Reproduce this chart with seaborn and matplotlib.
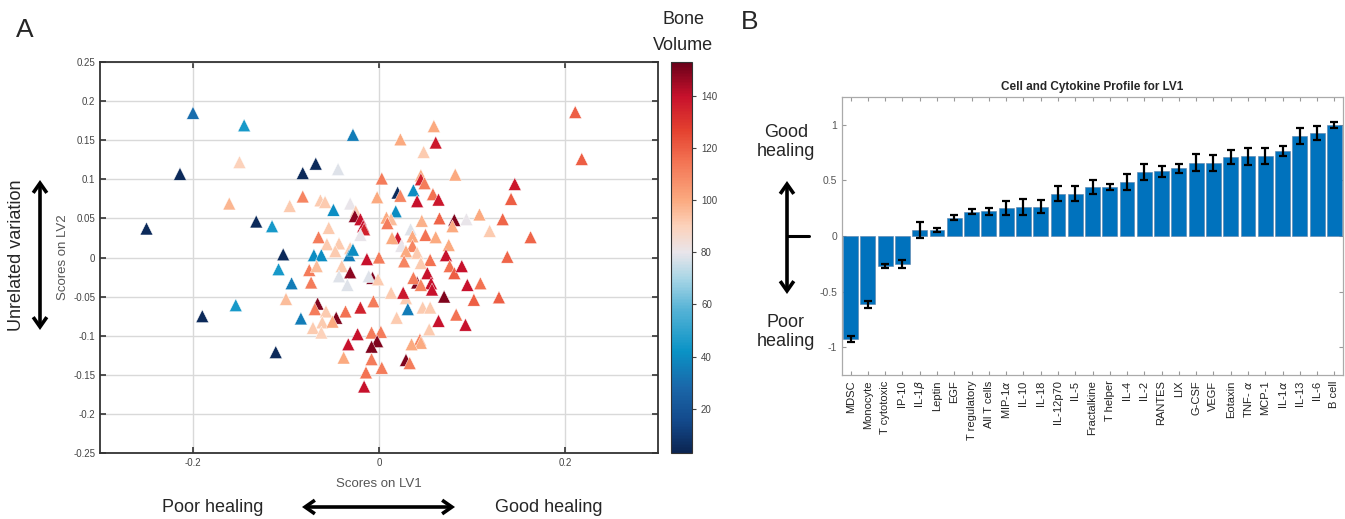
import numpy as np
import pandas as pd
import matplotlib
matplotlib.use("Agg")
import matplotlib.pyplot as plt
from matplotlib.colors import LinearSegmentedColormap, Normalize
import seaborn as sns

sns.set_style("white")
plt.rcParams['font.family'] = ['Liberation Sans', 'DejaVu Sans']

# ---------------- data: panel A ----------------
lv1_scores = [-0.200, -0.145, -0.028, 0.211, 0.218, 0.059, 0.023, 0.061, 0.048, -0.150,
              -0.068, -0.044, -0.082, -0.214, 0.003, 0.082, 0.045, 0.045, 0.049, 0.146,
              0.142, 0.020, 0.023, 0.037, 0.058, 0.041, 0.064, -0.002, -0.082, -0.161,
              -0.096, -0.063, -0.058, -0.049, -0.031, -0.025, 0.018, -0.026, -0.020, -0.017,
              -0.016, 0.008, 0.013, 0.009, 0.046, 0.065, 0.081, 0.094, 0.079, 0.108,
              0.133, 0.119, 0.163, -0.132, -0.115, -0.250, -0.054, -0.065, -0.056, -0.043,
              -0.031, -0.047, -0.020, 0.034, 0.020, 0.036, 0.050, 0.061, 0.014, 0.024,
              0.036, 0.075, 0.072, 0.041, 0.029, 0.027, 0.055, 0.045, 0.138, -0.103,
              -0.070, -0.062, -0.032, -0.028, -0.013, 0.000, -0.108, -0.094, -0.075, -0.067,
              -0.073, -0.040, -0.043, -0.031, -0.034, -0.007, -0.011, -0.001, -0.100, -0.154,
              -0.190, -0.111, -0.084, -0.066, -0.069, -0.057, -0.061, -0.071, -0.062, -0.046,
              -0.050, -0.036, -0.020, -0.006, 0.013, 0.029, 0.026, 0.041, 0.037, 0.052,
              0.056, 0.057, 0.045, 0.070, 0.076, 0.081, 0.089, 0.095, 0.109, 0.102,
              0.129, 0.064, 0.083, 0.093, 0.047, 0.055, 0.031, 0.019, 0.054, 0.044,
              0.045, 0.035, 0.002, -0.008, -0.023, -0.002, -0.008, -0.033, -0.038, -0.008,
              0.029, 0.033, -0.014, 0.003, -0.016]
lv2_scores = [0.185, 0.169, 0.157, 0.186, 0.126, 0.168, 0.151, 0.147, 0.135, 0.122,
              0.120, 0.113, 0.108, 0.107, 0.101, 0.106, 0.105, 0.100, 0.095, 0.094,
              0.075, 0.083, 0.079, 0.086, 0.081, 0.072, 0.074, 0.077, 0.078, 0.069,
              0.066, 0.073, 0.071, 0.061, 0.069, 0.059, 0.059, 0.053, 0.049, 0.040,
              0.036, 0.051, 0.049, 0.044, 0.047, 0.050, 0.048, 0.049, 0.040, 0.055,
              0.049, 0.034, 0.026, 0.046, 0.040, 0.037, 0.038, 0.026, 0.017, 0.018,
              0.012, 0.008, 0.029, 0.036, 0.025, 0.027, 0.029, 0.026, 0.025, 0.015,
              0.015, 0.016, 0.003, 0.006, 0.008, -0.005, -0.003, -0.007, 0.001, 0.004,
              0.003, 0.003, 0.003, 0.010, -0.002, 0.000, -0.015, -0.033, -0.016, -0.011,
              -0.032, -0.011, -0.024, -0.019, -0.035, -0.026, -0.024, -0.028, -0.053, -0.061,
              -0.075, -0.121, -0.078, -0.059, -0.066, -0.069, -0.083, -0.090, -0.096, -0.077,
              -0.082, -0.069, -0.064, -0.056, -0.045, -0.052, -0.045, -0.032, -0.026, -0.020,
              -0.033, -0.041, -0.035, -0.050, -0.011, -0.020, -0.011, -0.035, -0.033, -0.054,
              -0.051, -0.081, -0.073, -0.086, -0.064, -0.064, -0.066, -0.077, -0.092, -0.105,
              -0.109, -0.111, -0.095, -0.096, -0.098, -0.107, -0.114, -0.111, -0.128, -0.130,
              -0.131, -0.135, -0.147, -0.141, -0.165]
bone_volume = [30, 45, 35, 120, 120, 100, 100, 138, 92, 90,
               5, 78, 5, 5, 112, 100, 100, 135, 112, 138,
               120, 5, 110, 40, 115, 140, 138, 100, 110, 97,
               92, 92, 92, 40, 80, 92, 40, 148, 140, 140,
               135, 100, 95, 112, 98, 118, 150, 80, 100, 100,
               118, 92, 118, 5, 45, 5, 92, 112, 92, 92,
               92, 92, 80, 78, 138, 100, 115, 100, 100, 80,
               110, 100, 140, 92, 100, 110, 115, 92, 118, 5,
               40, 40, 35, 40, 140, 112, 45, 35, 112, 95,
               112, 92, 78, 148, 78, 150, 78, 92, 95, 45,
               5, 5, 35, 150, 112, 92, 92, 92, 90, 150,
               100, 115, 135, 112, 92, 92, 138, 150, 112, 140,
               140, 140, 110, 150, 115, 120, 140, 140, 115, 120,
               120, 140, 115, 140, 92, 92, 35, 92, 92, 110,
               100, 100, 112, 112, 140, 150, 150, 140, 100, 112,
               150, 112, 115, 112, 140]

# ---------------- data: panel B ----------------
profile_labels = ["MDSC", "Monocyte", "T cytotoxic", "IP-10", r"IL-1$\beta$", "Leptin", "EGF",
                  "T regulatory", "All T cells", r"MIP-1$\alpha$", "IL-10", "IL-18", "IL-12p70",
                  "IL-5", "Fractalkine", "T helper", "IL-4", "IL-2", "RANTES", "LIX", "G-CSF",
                  "VEGF", "Eotaxin", r"TNF- $\alpha$", "MCP-1", r"IL-1$\alpha$", "IL-13", "IL-6",
                  "B cell"]
profile_values = [-0.925, -0.613, -0.270, -0.252, 0.054, 0.054, 0.165, 0.219, 0.222, 0.252,
                  0.261, 0.264, 0.381, 0.381, 0.441, 0.441, 0.486, 0.573, 0.583, 0.610,
                  0.658, 0.658, 0.712, 0.715, 0.718, 0.763, 0.898, 0.925, 0.997]
profile_errors = [0.030, 0.030, 0.022, 0.040, 0.070, 0.020, 0.020, 0.020, 0.030, 0.060,
                  0.070, 0.060, 0.065, 0.070, 0.060, 0.025, 0.070, 0.070, 0.050, 0.040,
                  0.075, 0.070, 0.065, 0.075, 0.070, 0.045, 0.070, 0.060, 0.025]

W, H = 1345, 519
fig = plt.figure(figsize=(W / 100, H / 100), dpi=100)

def fx(px):
    return px / W

def fy(py):
    return 1 - py / H

# colormap (blue -> white -> red)
cmap_nodes = [(3, "#0b2552"), (15, "#13498b"), (28, "#1a67a9"), (42, "#0a93c6"),
              (58, "#56b3d6"), (70, "#a9d6e6"), (80, "#e9e5ea"), (90, "#fcd2bb"),
              (100, "#fbaa80"), (115, "#f37353"), (127, "#e4412f"), (140, "#c7112c"),
              (153, "#6a0019")]
vmin, vmax = 3, 153
cmap = LinearSegmentedColormap.from_list(
    "bone", [((v - vmin) / (vmax - vmin), c) for v, c in cmap_nodes])
norm = Normalize(vmin, vmax)

# ---------------- panel A ----------------
axA = fig.add_axes([fx(100), fy(453), fx(558), (453 - 62) / H])
dfA = pd.DataFrame({"LV1": lv1_scores, "LV2": lv2_scores, "Bone": bone_volume})
sns.scatterplot(data=dfA, x="LV1", y="LV2", hue="Bone", palette=cmap, hue_norm=norm,
                marker="^", s=85, edgecolor="white", linewidth=0.3, legend=False,
                ax=axA, zorder=3)
axA.set_xlim(-0.3, 0.3)
axA.set_ylim(-0.25, 0.25)
axA.set_xticks([-0.2, 0, 0.2])
axA.set_xticklabels(["-0.2", "0", "0.2"])
yt = [-0.25, -0.2, -0.15, -0.1, -0.05, 0, 0.05, 0.1, 0.15, 0.2, 0.25]
axA.set_yticks(yt)
axA.set_yticklabels(["-0.25", "-0.2", "-0.15", "-0.1", "-0.05", "0", "0.05", "0.1",
                     "0.15", "0.2", "0.25"])
axA.grid(True, color="#d9d9d9", lw=1.0, zorder=0)
axA.set_axisbelow(True)
axA.tick_params(direction="in", length=4, width=1.2, colors="#333333", labelsize=7,
                labelcolor="#444444", top=True, right=True, left=True, bottom=True)
for s in axA.spines.values():
    s.set_color("#333333")
    s.set_linewidth(1.3)
axA.set_xlabel("Scores on LV1", fontsize=9.5, color="#555555", labelpad=7)
axA.set_ylabel("Scores on LV2", fontsize=9.5, color="#555555", labelpad=3)

# colorbar
cax = fig.add_axes([fx(671), fy(453), fx(21), (453 - 62) / H])
sm = matplotlib.cm.ScalarMappable(norm=norm, cmap=cmap)
cb = fig.colorbar(sm, cax=cax)
cb.set_ticks([20, 40, 60, 80, 100, 120, 140])
cb.ax.tick_params(labelsize=7, length=3, direction="out", colors="#444444")
cb.outline.set_edgecolor("#333333")
cb.outline.set_linewidth(0.8)

fig.text(fx(683), fy(20), "Bone", fontsize=13, ha="center", va="center")
fig.text(fx(683), fy(45), "Volume", fontsize=13, ha="center", va="center")
fig.text(fx(25), fy(30), "A", fontsize=19, ha="center", va="center")

fig.text(fx(17), fy(255), "Unrelated variation", fontsize=13, rotation=90,
         ha="center", va="center")
arrow_kw = dict(arrowstyle="<->,head_length=0.5,head_width=0.35", lw=2.6, color="black",
                mutation_scale=14, shrinkA=0, shrinkB=0, joinstyle="miter",
                capstyle="butt")
fig.add_artist(matplotlib.patches.FancyArrowPatch(
    (fx(40), fy(180)), (fx(40), fy(330)), transform=fig.transFigure, **arrow_kw))
fig.text(fx(213), fy(507), "Poor healing", fontsize=13, ha="center", va="center")
fig.text(fx(549), fy(507), "Good healing", fontsize=13, ha="center", va="center")
fig.add_artist(matplotlib.patches.FancyArrowPatch(
    (fx(302), fy(507)), (fx(455), fy(507)), transform=fig.transFigure, **arrow_kw))

# ---------------- panel B ----------------
axB = fig.add_axes([fx(842), fy(375), fx(501), (375 - 97) / H])
dfB = pd.DataFrame({"Label": profile_labels, "Value": profile_values})
sns.barplot(data=dfB, x="Label", y="Value", color="#0072BD", saturation=1,
            width=0.86, edgecolor="#5a7fa8", linewidth=0.4, ax=axB, zorder=2)
axB.errorbar(np.arange(len(profile_values)), profile_values, yerr=profile_errors,
             fmt="none", ecolor="black", elinewidth=1.6, capsize=3, capthick=1.6, zorder=4)
axB.set_xlim(-0.5, len(profile_values) - 0.5)
axB.set_ylim(-1.25, 1.25)
axB.set_yticks([-1, -0.5, 0, 0.5, 1])
axB.set_yticklabels(["-1", "-0.5", "0", "0.5", "1"])
axB.set_xlabel("")
axB.set_ylabel("")
axB.set_xticks(np.arange(len(profile_labels)))
axB.set_xticklabels(profile_labels, rotation=90, fontsize=8, color="#222222")
axB.tick_params(axis="x", direction="in", length=3, width=0.8, colors="#999999",
                labelcolor="#222222", top=True, bottom=True, pad=4)
axB.tick_params(axis="y", direction="in", length=3, width=0.8, colors="#999999",
                labelcolor="#555555", labelsize=7.5, left=True, right=True)
for s in axB.spines.values():
    s.set_color("#aaaaaa")
    s.set_linewidth(0.9)
axB.set_title("Cell and Cytokine Profile for LV1", fontsize=8.5, fontweight="bold",
              pad=5)

fig.text(fx(750), fy(22), "B", fontsize=19, ha="center", va="center")
fig.text(fx(786), fy(142), "Good\nhealing", fontsize=13, ha="center", va="center",
         linespacing=1.15)
fig.text(fx(786), fy(332), "Poor\nhealing", fontsize=13, ha="center", va="center",
         linespacing=1.15)
fig.add_artist(matplotlib.patches.FancyArrowPatch(
    (fx(787), fy(181)), (fx(787), fy(294)), transform=fig.transFigure, **arrow_kw))
fig.add_artist(matplotlib.lines.Line2D([fx(787), fx(809)], [fy(236), fy(236)],
                                       transform=fig.transFigure, color="black", lw=2.2))

fig.savefig("out.png", dpi=100)
